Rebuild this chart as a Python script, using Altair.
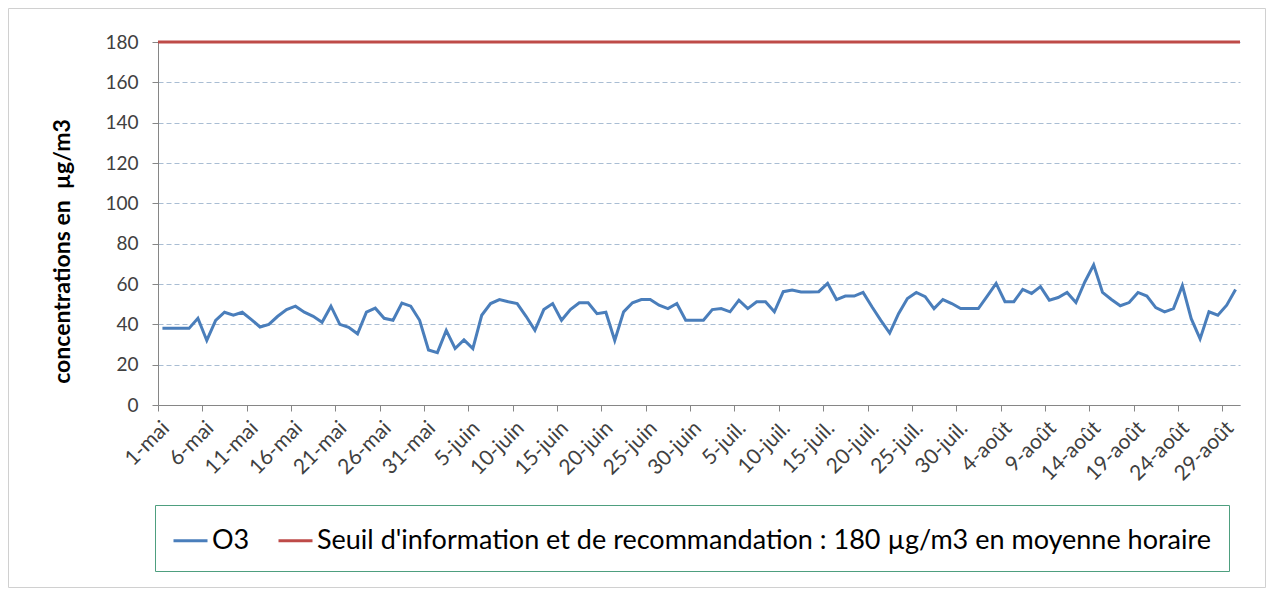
import altair as alt
import pandas as pd

# ---- data ----
tick_labels = ["1-mai", "6-mai", "11-mai", "16-mai", "21-mai", "26-mai", "31-mai",
               "5-juin", "10-juin", "15-juin", "20-juin", "25-juin", "30-juin",
               "5-juil.", "10-juil.", "15-juil.", "20-juil.", "25-juil.", "30-juil.",
               "4-août", "9-août", "14-août", "19-août", "24-août", "29-août"]

o3_values = [38, 38, 38, 38, 43, 32, 42, 46, 44.5, 46, 42.5, 38.7, 40, 44, 47.3,
             49, 46, 44, 41, 49, 40, 38.5, 35.3, 46, 48,
             43, 42, 50.5, 49, 42, 27.3, 26, 37, 28, 32.3, 28, 44.5, 50.3, 52.3, 51.2,
             50.3, 44, 37, 47.3, 50.3, 42, 47.3, 50.7, 50.7, 45.3,
             46, 32, 46.2, 50.7, 52.3, 52.3, 49.5, 47.8, 50.3, 42, 42, 42, 47.3, 47.8,
             46.2, 52, 47.8, 51.2, 51.2, 46.2, 56.2, 57, 56, 56, 56.2,
             60.3, 52.3, 54, 54, 55.8, 48.7, 42, 35.7, 45.3, 52.8, 55.8, 53.7, 47.8,
             52.3, 50.3, 47.8, 47.8, 47.8, 54, 60.3, 51.2, 51.2, 57.3, 55.3, 58.7,
             52, 53.3, 55.8, 50.8, 61, 69.5, 55.8, 52.3, 49.2, 50.8, 55.8, 54, 48.3,
             46.2, 47.8, 59.2, 42.8, 32.8, 46.2, 44.5, 49.5, 57.3]

threshold = 180
series_names = ["O3", "Seuil d'information et de recommandation : 180 µg/m3 en moyenne horaire"]
series_colors = ["#4a7ebb", "#be4b48"]
y_ticks = [0, 20, 40, 60, 80, 100, 120, 140, 160, 180]
tick_step = 5
y_title = "concentrations en\u00a0 µg/m3"

n = len(o3_values)
o3_df = pd.DataFrame({"day": list(range(n)), "value": o3_values, "series": series_names[0]})
thr_df = pd.DataFrame({"day": [-0.5, n - 0.5], "value": [threshold, threshold], "series": series_names[1]})
data = pd.concat([o3_df, thr_df], ignore_index=True)

FONT = "Lato"
PW, PH = 1082, 363

labels_js = "[" + ",".join("'" + t + "'" for t in tick_labels) + "]"

x_enc = alt.X("xpos:Q",
              scale=alt.Scale(domain=[0, n], nice=False, zero=False),
              axis=alt.Axis(values=[i * tick_step for i in range(len(tick_labels))],
                            labelExpr=labels_js + "[round(datum.value/" + str(tick_step) + ")]",
                            labelAngle=315, labelAlign="right", labelBaseline="top",
                            labelFont=FONT, labelFontSize=21, labelColor="#404040",
                            labelPadding=6, labelOverlap=False,
                            tickSize=6, tickColor="#868686", domainColor="#868686",
                            grid=False, title=None))

y_enc = alt.Y("value:Q",
              scale=alt.Scale(domain=[0, 180], nice=False),
              axis=alt.Axis(values=y_ticks, labelFont=FONT, labelFontSize=19,
                            labelColor="#404040", labelPadding=14,
                            tickSize=6, tickColor="#868686", domainColor="#868686",
                            grid=True, gridColor="#a9bdd3", gridDash=[5, 3], gridWidth=1,
                            title=y_title, titleFont=FONT,
                            titleFontSize=23, titleFontWeight="bold", titleColor="#000000",
                            titleAngle=270, titleAlign="center", titleBaseline="middle",
                            titleX=-96, titleY=209))

color_enc = alt.Color("series:N",
                      scale=alt.Scale(domain=series_names, range=series_colors),
                      legend=alt.Legend(orient="none", legendX=-3, legendY=463,
                                        direction="horizontal", title=None,
                                        strokeColor="#4e9f7f", padding=17,
                                        symbolType="stroke", symbolSize=1156,
                                        symbolStrokeWidth=3, labelFont=FONT,
                                        labelFontSize=27, labelColor="#000000",
                                        labelLimit=2000, labelOffset=3,
                                        columnPadding=22))

lines = alt.Chart(data).transform_calculate(
    xpos="datum.day + 0.5"
).mark_line(strokeWidth=3).encode(
    x=x_enc, y=y_enc, color=color_enc, detail="series:N"
)

frame = alt.Chart(pd.DataFrame({"k": [0]})).mark_rect(
    filled=False, stroke="#d0d0d0", strokeWidth=1
).encode(
    x=alt.value(-149.5), x2=alt.value(PW + 25.5),
    y=alt.value(-33.5), y2=alt.value(PH + 182.5)
)

chart = alt.layer(frame, lines).properties(
    width=PW, height=PH,
    autosize=alt.AutoSizeParams(type="none"),
    padding={"left": 150, "top": 34, "right": 26, "bottom": 183},
    background="white"
).configure_view(stroke=None)

chart.save("out.html", embed_options={"renderer": "svg", "actions": False})
